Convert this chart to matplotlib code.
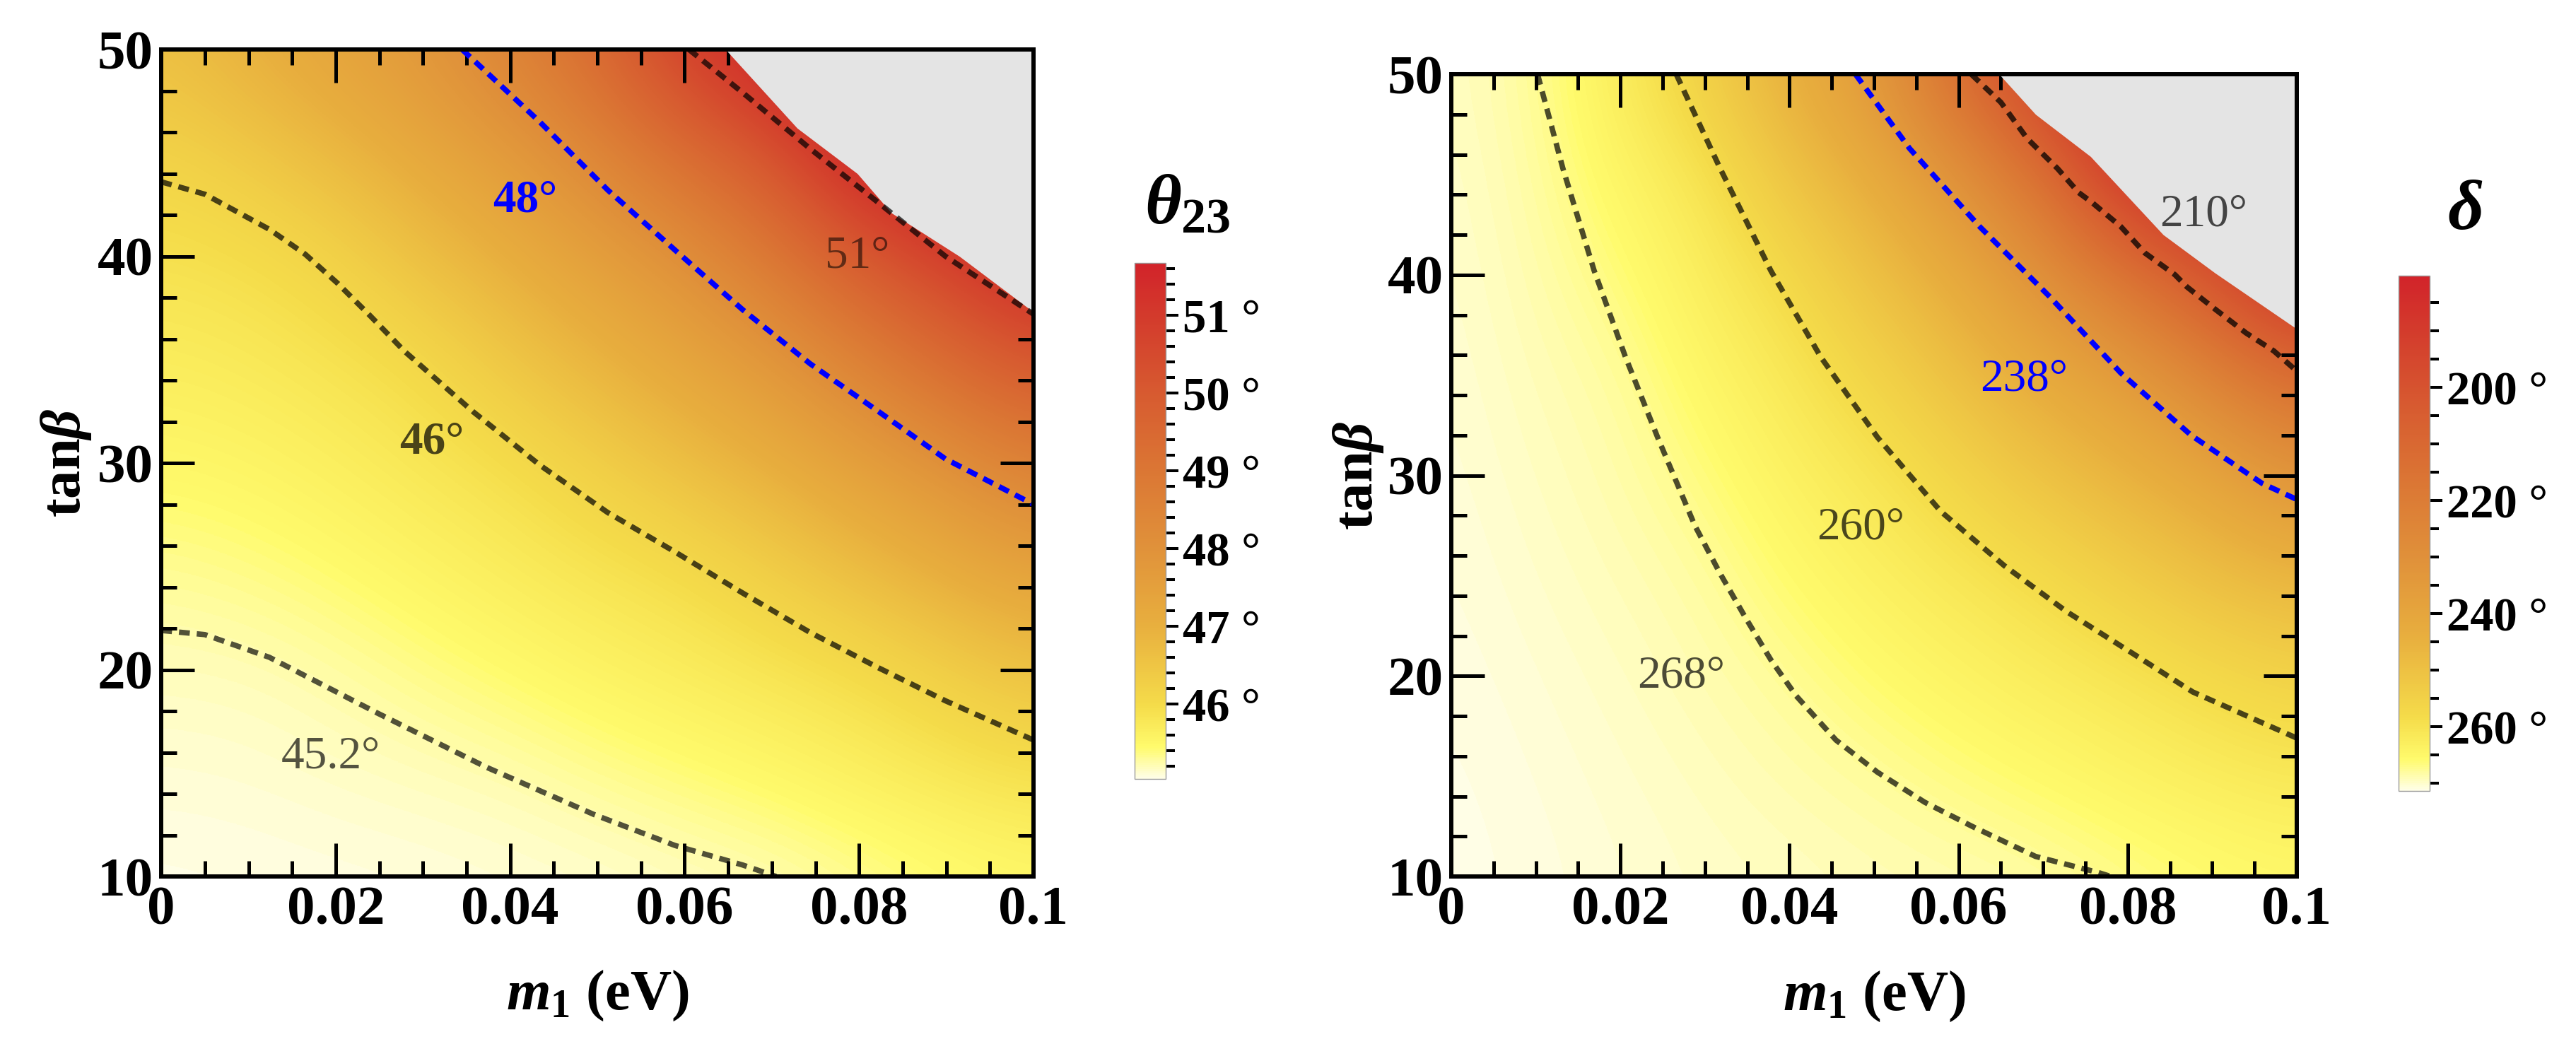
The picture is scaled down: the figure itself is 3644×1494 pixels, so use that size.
import numpy as np
import matplotlib
matplotlib.use("Agg")
import matplotlib.pyplot as plt
from matplotlib.colors import LinearSegmentedColormap
from matplotlib.ticker import MultipleLocator

plt.rcParams['font.family'] = 'Liberation Serif'
plt.rcParams['font.weight'] = 'bold'
plt.rcParams['axes.labelweight'] = 'bold'
plt.rcParams['mathtext.fontset'] = 'custom'
plt.rcParams['mathtext.rm'] = 'Liberation Serif:bold'
plt.rcParams['mathtext.it'] = 'Liberation Serif:italic:bold'
plt.rcParams['mathtext.bf'] = 'Liberation Serif:bold'

# grid of the scan
m1 = [0.0, 0.01, 0.02, 0.03, 0.04, 0.05, 0.06, 0.07, 0.08, 0.09, 0.1]
tanb = [10, 15, 20, 25, 30, 35, 40, 45, 50]

# theta23 in degrees, one row per tanb value
theta23 = [
    [45.05, 45.06, 45.07, 45.08, 45.10, 45.12, 45.16, 45.20, 45.29, 45.40, 45.48],
    [45.11, 45.12, 45.15, 45.18, 45.22, 45.31, 45.40, 45.50, 45.63, 45.76, 45.89],
    [45.18, 45.19, 45.25, 45.35, 45.46, 45.58, 45.69, 45.81, 45.96, 46.26, 46.60],
    [45.31, 45.36, 45.45, 45.57, 45.70, 45.84, 45.98, 46.30, 46.70, 47.11, 47.47],
    [45.50, 45.55, 45.65, 45.79, 45.94, 46.25, 46.63, 47.04, 47.49, 47.97, 48.62],
    [45.68, 45.74, 45.85, 46.02, 46.45, 46.89, 47.32, 47.79, 48.53, 49.42, 50.16],
    [45.87, 45.94, 46.16, 46.62, 47.05, 47.52, 48.02, 48.90, 50.00, 50.82, 51.70],
    [46.15, 46.40, 46.77, 47.22, 47.66, 48.37, 49.30, 50.20, 51.70, 52.30, 52.50],
    [46.62, 46.99, 47.39, 47.82, 48.55, 49.50, 50.90, 51.80, 52.50, 53.00, 53.50],
]

# delta in degrees, one row per tanb value
delta = [
    [271.3, 270.9, 270.4, 269.9, 269.6, 269.2, 269.0, 268.5, 267.4, 266.2, 265.5],
    [271.2, 270.7, 270.1, 269.5, 268.8, 268.1, 266.8, 265.5, 264.0, 262.7, 261.5],
    [271.0, 270.4, 269.7, 268.9, 267.8, 265.8, 264.1, 262.4, 260.8, 258.0, 255.5],
    [270.8, 270.0, 269.2, 268.3, 265.7, 263.4, 261.3, 258.4, 253.9, 249.2, 246.3],
    [270.6, 269.6, 268.7, 266.7, 263.6, 261.0, 256.4, 250.5, 245.6, 240.5, 232.1],
    [270.4, 269.2, 268.2, 264.7, 261.5, 256.3, 249.5, 242.6, 236.4, 224.0, 211.3],
    [270.2, 268.8, 266.6, 262.7, 258.0, 249.8, 242.7, 230.9, 215.6, 200.0, 182.0],
    [270.0, 268.4, 264.5, 260.7, 251.0, 243.2, 231.7, 214.0, 185.0, 180.0, 180.0],
    [269.7, 268.0, 262.5, 254.7, 244.0, 234.5, 212.0, 190.0, 180.0, 180.0, 180.0],
]

# contour lines (m1, tanb)
th_452_x = [0.0, 0.005, 0.0124, 0.0248, 0.0372, 0.0496, 0.0589, 0.0667, 0.0705]
th_452_y = [21.9, 21.7, 20.6, 17.9, 15.3, 13.0, 11.5, 10.55, 10.0]
th_46_x = [0.0, 0.005, 0.0124, 0.0165, 0.0202, 0.024, 0.0279, 0.0357, 0.0434, 0.0512, 0.0589, 0.0667, 0.0744, 0.0822, 0.0899, 0.1]
th_46_y = [43.6, 43.0, 41.3, 40.1, 38.7, 37.1, 35.4, 32.5, 29.9, 27.6, 25.7, 23.7, 21.8, 20.1, 18.5, 16.6]
th_48_x = [0.0345, 0.0434, 0.0512, 0.0589, 0.0667, 0.0744, 0.0822, 0.0899, 0.1]
th_48_y = [50.0, 46.5, 43.2, 40.3, 37.4, 34.8, 32.5, 30.2, 28.0]
th_51_x = [0.0605, 0.0667, 0.0744, 0.0822, 0.0899, 0.1]
th_51_y = [50.0, 47.9, 45.2, 42.6, 40.0, 37.2]
th_edge_x = [0.0647, 0.0729, 0.0798, 0.0837, 0.0915, 0.1]
th_edge_y = [50.0, 46.2, 44.0, 42.1, 40.0, 37.3]

de_268_x = [0.0102, 0.0132, 0.0169, 0.0206, 0.0244, 0.0288, 0.0318, 0.0348, 0.0378, 0.0408, 0.0455, 0.0504, 0.056, 0.0616, 0.0691, 0.0765, 0.078]
de_268_y = [50.0, 45.3, 40.2, 35.9, 31.9, 27.5, 25.1, 22.9, 20.8, 19.0, 16.8, 15.2, 13.7, 12.5, 11.0, 10.2, 10.0]
de_260_x = [0.0266, 0.0318, 0.0378, 0.0437, 0.0504, 0.0579, 0.0654, 0.0728, 0.0803, 0.0877, 0.1]
de_260_y = [50.0, 45.3, 40.2, 35.9, 31.9, 28.2, 25.5, 23.2, 21.2, 19.2, 16.9]
de_238_x = [0.0478, 0.0542, 0.0625, 0.0708, 0.0792, 0.0875, 0.0959, 0.1]
de_238_y = [50.0, 46.3, 42.4, 38.9, 35.1, 32.0, 29.6, 28.8]
de_210_x = [0.0615, 0.0625, 0.0650, 0.0681, 0.0717, 0.0742, 0.0758, 0.0792, 0.0820, 0.0856, 0.0870, 0.0903, 0.0940, 0.0973, 0.1]
de_210_y = [50.0, 49.6, 48.6, 46.8, 45.3, 44.1, 43.6, 42.4, 41.1, 40.0, 39.4, 38.3, 37.1, 36.2, 35.2]
de_edge_x = [0.0648, 0.0691, 0.0756, 0.0842, 0.0903, 0.1]
de_edge_y = [50.0, 48.0, 45.9, 42.0, 40.1, 37.3]

th_ticks = [46, 47, 48, 49, 50, 51]
de_ticks = [200, 220, 240, 260]
xticks = [0, 0.02, 0.04, 0.06, 0.08, 0.1]
xticklabels = ['0', '0.02', '0.04', '0.06', '0.08', '0.1']
yticks = [10, 20, 30, 40, 50]

cmap = LinearSegmentedColormap.from_list('heat', [
    (0.0, '#fffee6'), (0.06, '#fffb6c'), (0.14, '#f5dc4a'), (0.30, '#e8ae3e'),
    (0.45, '#e0913a'), (0.60, '#db7634'), (0.75, '#d75a30'), (0.90, '#d33a2c'),
    (1.0, '#d2232a')])

fig = plt.figure(figsize=(36.44, 14.94), dpi=100)
ax1 = fig.add_axes([0.0626, 0.170, 0.3386, 0.7831])
ax2 = fig.add_axes([0.5634, 0.170, 0.3282, 0.7597])
cax1 = fig.add_axes([0.4404, 0.2624, 0.0121, 0.4886])
cax2 = fig.add_axes([0.9311, 0.2510, 0.0121, 0.4880])

ext = [m1[0] - 0.005, m1[-1] + 0.005, tanb[0] - 2.5, tanb[-1] + 2.5]
im1 = ax1.imshow(np.array(theta23), origin='lower', extent=ext, aspect='auto',
                 cmap=cmap, vmin=45.04, vmax=51.67, interpolation='bicubic')
im2 = ax2.imshow(np.array(delta), origin='lower', extent=ext, aspect='auto',
                 cmap=cmap.reversed(), vmin=180.2, vmax=271.4, interpolation='bicubic')

ax1.fill_between(th_edge_x, th_edge_y, 50, color='#e4e4e4', lw=0, zorder=2)
ax2.fill_between(de_edge_x, de_edge_y, 50, color='#e4e4e4', lw=0, zorder=2)

dash = dict(lw=5.5, dashes=(2.0, 1.3), dash_capstyle='butt', zorder=3)
ax1.plot(th_452_x, th_452_y, color='k', alpha=0.68, **dash)
ax1.plot(th_46_x, th_46_y, color='k', alpha=0.7, **dash)
ax1.plot(th_48_x, th_48_y, color='#0000ff', **dash)
ax1.plot(th_51_x, th_51_y, color='k', alpha=0.7, **dash)
ax2.plot(de_268_x, de_268_y, color='k', alpha=0.7, **dash)
ax2.plot(de_260_x, de_260_y, color='k', alpha=0.7, **dash)
ax2.plot(de_238_x, de_238_y, color='#0000ff', **dash)
ax2.plot(de_210_x, de_210_y, color='k', alpha=0.75, **dash)

lab = dict(fontsize=47, ha='center', va='center', zorder=4)
ax1.text(0.0417, 42.7, '48°', color='#0000ff', fontweight='bold', **lab)
ax1.text(0.0798, 40.0, '51°', color='k', alpha=0.55, fontweight='normal', **lab)
ax1.text(0.0310, 31.0, '46°', color='k', alpha=0.7, fontweight='bold', **lab)
ax1.text(0.0194, 15.8, '45.2°', color='k', alpha=0.67, fontweight='normal', **lab)
ax2.text(0.0677, 34.8, '238°', color='#0000ff', fontweight='normal', **lab)
ax2.text(0.0890, 43.0, '210°', color='k', alpha=0.7, fontweight='normal', **lab)
ax2.text(0.0484, 27.4, '260°', color='k', alpha=0.7, fontweight='normal', **lab)
ax2.text(0.0272, 20.0, '268°', color='k', alpha=0.7, fontweight='normal', **lab)

for ax, ylc in [(ax1, -0.112), (ax2, -0.116)]:
    ax.set_xlim(0, 0.1)
    ax.set_ylim(10, 50)
    ax.set_xticks(xticks)
    ax.set_xticklabels(xticklabels)
    ax.set_yticks(yticks)
    ax.xaxis.set_minor_locator(MultipleLocator(0.005))
    ax.yaxis.set_minor_locator(MultipleLocator(2))
    ax.tick_params(which='both', direction='in', top=True, right=True,
                   width=3.6, labelsize=57, color='k')
    ax.tick_params(which='major', length=34)
    ax.tick_params(which='minor', length=16)
    ax.tick_params(axis='x', pad=10)
    ax.tick_params(axis='y', pad=8)
    for s in ax.spines.values():
        s.set_linewidth(4.3)
        s.set_zorder(5)
    ax.set_xlabel(r'$m_1$ (eV)', fontsize=58)
    ax.set_ylabel(r'tan$\beta$', fontsize=58)
    ax.xaxis.set_label_coords(0.5, ylc)
    ax.yaxis.set_label_coords(-0.078, 0.5)

cb1 = fig.colorbar(im1, cax=cax1)
cb1.set_ticks(th_ticks)
cb1.set_ticklabels([f'{t} °' for t in th_ticks])
cax1.yaxis.set_minor_locator(MultipleLocator(0.2))

cb2 = fig.colorbar(im2, cax=cax2)
cb2.set_ticks(de_ticks)
cb2.set_ticklabels([f'{t} °' for t in de_ticks])
cax2.yaxis.set_minor_locator(MultipleLocator(5))
cax2.invert_yaxis()

for cax, cb in [(cax1, cb1), (cax2, cb2)]:
    cax.tick_params(which='both', direction='out', width=2.9, labelsize=48, pad=4)
    cax.tick_params(which='major', length=13)
    cax.tick_params(which='minor', length=9.5)
    cb.outline.set_edgecolor('#9a9a9a')
    cb.outline.set_linewidth(1)

fig.text(0.461, 0.804, r'$\theta_{23}$', fontsize=72, ha='center', va='center')
fig.text(0.957, 0.799, r'$\delta$', fontsize=72, ha='center', va='center')

fig.savefig('out.png', dpi=100)
